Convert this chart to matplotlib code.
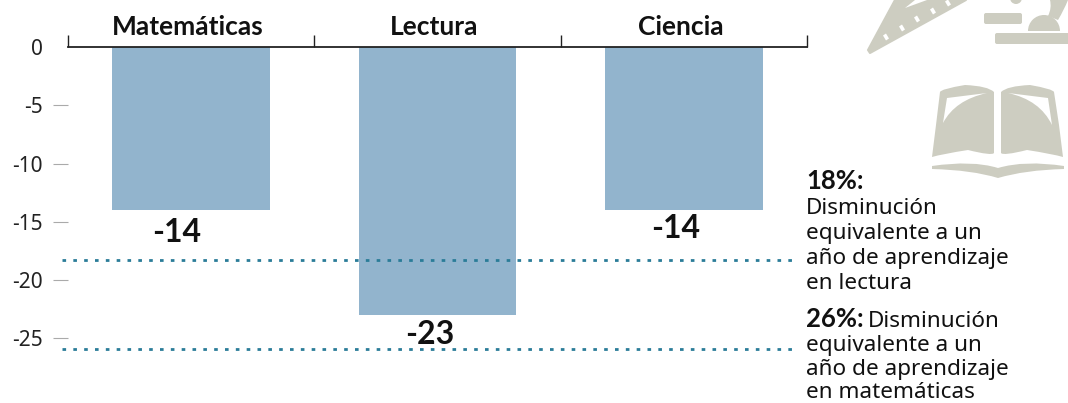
#!/usr/bin/env python3
import matplotlib
matplotlib.use('Agg')
import matplotlib.pyplot as plt
from matplotlib.patches import Polygon, FancyBboxPatch, Wedge, Circle, PathPatch
from matplotlib.path import Path
from matplotlib.transforms import ScaledTranslation

plt.rcParams['font.family'] = ['Noto Sans', 'DejaVu Sans']

materias = ['Matemáticas', 'Lectura', 'Ciencia']
cambios = [-14, -23, -14]
etiquetas = ['-14', '-23', '-14']
y_ticks = [0, -5, -10, -15, -20, -25]
umbrales = [-18.3, -25.9]

W, H = 1068, 403
azul = '#92b4cd'
punteado = '#2a7c98'
icono = '#cdcdc1'
M, L, C4, Z = Path.MOVETO, Path.LINETO, Path.CURVE3, Path.CLOSEPOLY

fig = plt.figure(figsize=(W / 100, H / 100), dpi=100, facecolor='white')

# capa en pixeles para iconos y notas
bg = fig.add_axes([0, 0, 1, 1])
bg.set_xlim(0, W)
bg.set_ylim(H, 0)
bg.axis('off')


def forma(puntos, codigos, color=icono):
    bg.add_patch(PathPatch(Path(puntos, codigos), fc=color, ec='none'))


def barra(x0, y0, w, h):
    bg.add_patch(FancyBboxPatch((x0 + 2, y0 + 2), w - 4, h - 4, boxstyle='round,pad=2', fc=icono, ec='none'))


# escuadra
bg.add_patch(Polygon([(870, 53), (868, 50), (895, 0), (966, 0)], closed=True, fc=icono, ec=icono, lw=1.5, joinstyle='round'))
bg.add_patch(Polygon([(905, 8), (915, 0), (927, 0)], closed=True, fc='white', ec='none'))
for mx, my in [(886, 37), (902, 28), (917, 19), (933, 11), (948, 3)]:
    bg.add_patch(Polygon([(mx - 3, my - 1.5), (mx, my - 3.5), (mx + 3, my + 1.5), (mx, my + 3.5)], closed=True, fc='white', ec='none'))

# microscopio
barra(984, 13, 38, 11)
barra(995, 33, 75, 11)
bg.add_patch(Wedge((1044, 31), 16, 180, 360, fc=icono, ec='none'))
bg.add_patch(Circle((1016, -2), 6, fc=icono, ec='none'))
forma([(1050, 0), (1068, 0), (1068, 0), (1064, 10), (1058, 20), (1048, 16), (1048, 16), (1052, 8), (1050, 0), (1050, 0)],
      [M, L, L, C4, C4, L, L, C4, C4, Z])

# libro
forma([(932, 157), (936, 125), (940, 92), (941, 89), (965, 85), (988, 86), (994, 92), (994, 153), (992, 156), (968, 150),
       (942, 154), (932, 157), (932, 157)],
      [M, L, L, C4, C4, C4, L, L, C4, C4, C4, L, Z])
forma([(1063, 157), (1059, 125), (1054, 92), (1053, 89), (1030, 85), (1007, 86), (1001, 92), (1001, 153), (1003, 156), (1027, 150),
       (1053, 154), (1063, 157), (1063, 157)],
      [M, L, L, C4, C4, C4, L, L, C4, C4, C4, L, Z])
forma([(947, 98), (987, 93), (955, 100), (943, 123), (947, 98)], [M, L, C4, C4, Z], 'white')
forma([(1008, 93), (1048, 98), (1052, 125), (1040, 100), (1008, 93)], [M, L, L, C4, C4], 'white')
forma([(932, 166), (972, 160), (998, 168), (1025, 160), (1064, 166), (1064, 169), (1025, 170), (998, 178), (972, 170), (932, 169), (932, 166)],
      [M, C4, C4, C4, C4, L, C4, C4, C4, C4, Z])

# notas (Noto Sans no trae negrita aqui, Lato para lo destacado)
fs_nota = 16.2
fs_neg = 18.5
bg.text(806, 189, '18%:', fontsize=fs_neg, family=['Lato'], fontweight='bold', va='baseline', ha='left', color='#111111')
for yy, t in zip([214, 239, 264, 289], ['Disminución', 'equivalente a un', 'año de aprendizaje', 'en lectura']):
    bg.text(806, yy, t, fontsize=fs_nota, va='baseline', ha='left', color='#111111')
bg.text(806, 327, '26%:', fontsize=fs_neg, family=['Lato'], fontweight='bold', va='baseline', ha='left', color='#111111')
bg.text(868, 327, 'Disminución', fontsize=fs_nota, va='baseline', ha='left', color='#111111')
for yy, t in zip([351, 375, 398], ['equivalente a un', 'año de aprendizaje', 'en matemáticas']):
    bg.text(806, yy, t, fontsize=fs_nota, va='baseline', ha='left', color='#111111')

# grafica: y=0 en pixel 47, 11.65 px por unidad
ax = fig.add_axes([68 / W, 0, (807 - 68) / W, (H - 47) / H])
ax.patch.set_alpha(0)
ax.set_xlim(-0.5, 2.5)
ax.set_ylim(-(H - 47) / 11.65, 0)
x = range(len(materias))
ax.bar(x, cambios, width=0.64, color=azul, zorder=1)

for sp in ['left', 'right', 'bottom']:
    ax.spines[sp].set_visible(False)
ax.spines['top'].set_linewidth(1.3)
ax.spines['top'].set_color('#222222')

ax.xaxis.tick_top()
ax.set_xticks([-0.5, 0.5, 1.5, 2.5])
ax.set_xticklabels([])
ax.tick_params(axis='x', which='major', length=9, width=1, color='#222222', direction='out')
ax.set_xticks(list(x), minor=True)
ax.set_xticklabels(materias, minor=True, fontsize=19, family=['Lato'], fontweight='bold', color='#111111')
ax.tick_params(axis='x', which='minor', length=0, pad=6)
corrimiento = ScaledTranslation(-3.5 / 100, 0, fig.dpi_scale_trans)
for lab in ax.get_xticklabels(minor=True):
    lab.set_transform(lab.get_transform() + corrimiento)

ax.set_yticks(y_ticks)
ax.set_yticklabels([str(v) for v in y_ticks], fontsize=15, color='#222222')
ax.tick_params(axis='y', length=11, width=0.8, color='#aaaaaa', pad=7)
ax.yaxis.get_major_ticks()[0].tick1line.set_visible(False)

# valores: desplazados a mano como en el original
for i, v, t, dx, dy in zip(x, cambios, etiquetas, [-0.06, -0.03, -0.035], [-1.9, -1.7, -1.6]):
    ax.text(i + dx, v + dy, t, fontsize=23, family=['Lato'], fontweight='bold', ha='center', va='center', color='#111111', clip_on=False)

for u in umbrales:
    ax.plot([-0.525, 2.455], [u, u], color=punteado, lw=2, linestyle=(0, (1.3, 2.6)), clip_on=False, zorder=3)

fig.savefig('out.png', dpi=100)
